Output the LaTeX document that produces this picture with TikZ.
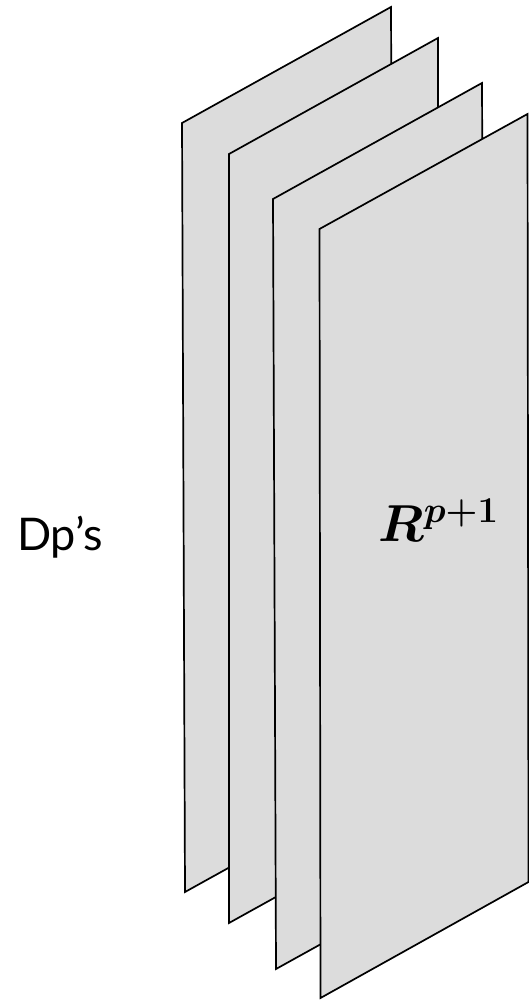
\RequirePackage{fix-cm}
\documentclass[tikz,border=0pt]{standalone}
\usepackage{fontspec}
\usepackage{amsmath,bm}
\newfontfamily\labelfont{Lato}
\definecolor{sheetgray}{HTML}{DCDCDC}
\begin{document}
\begin{tikzpicture}[x=1pt,y=-1pt,
  sheet/.style={draw=black,fill=sheetgray,line width=1.7pt,line join=miter},
  lbl/.style={inner sep=0pt,anchor=base west}]
\useasboundingbox (0,0) rectangle (528,1000);
% four stacked branes, back to front
\coordinate (a1) at (182,123); \coordinate (b1) at (391,7);
\coordinate (c1) at (394,776); \coordinate (d1) at (185,892);
\coordinate (a2) at (229,154); \coordinate (b2) at (438,38);
\coordinate (c2) at (438,807); \coordinate (d2) at (229,923);
\coordinate (a3) at (273,199); \coordinate (b3) at (482,83);
\coordinate (c3) at (485,853); \coordinate (d3) at (276,969);
\coordinate (a4) at (319.5,229); \coordinate (b4) at (527.5,114);
\coordinate (c4) at (528.5,882); \coordinate (d4) at (320.5,998);
\foreach \i in {1,2,3,4}
  \filldraw[sheet] (a\i) -- (b\i) -- (c\i) -- (d\i) -- cycle;
% labels
\node[lbl,font=\labelfont\fontsize{45}{54}\selectfont] (dps) at (17,550) {Dp’s};
\node[lbl,font=\fontsize{52}{62}\selectfont] (rp) at (378,541) {$\bm{R^{p+1}}$};
\end{tikzpicture}
\end{document}
